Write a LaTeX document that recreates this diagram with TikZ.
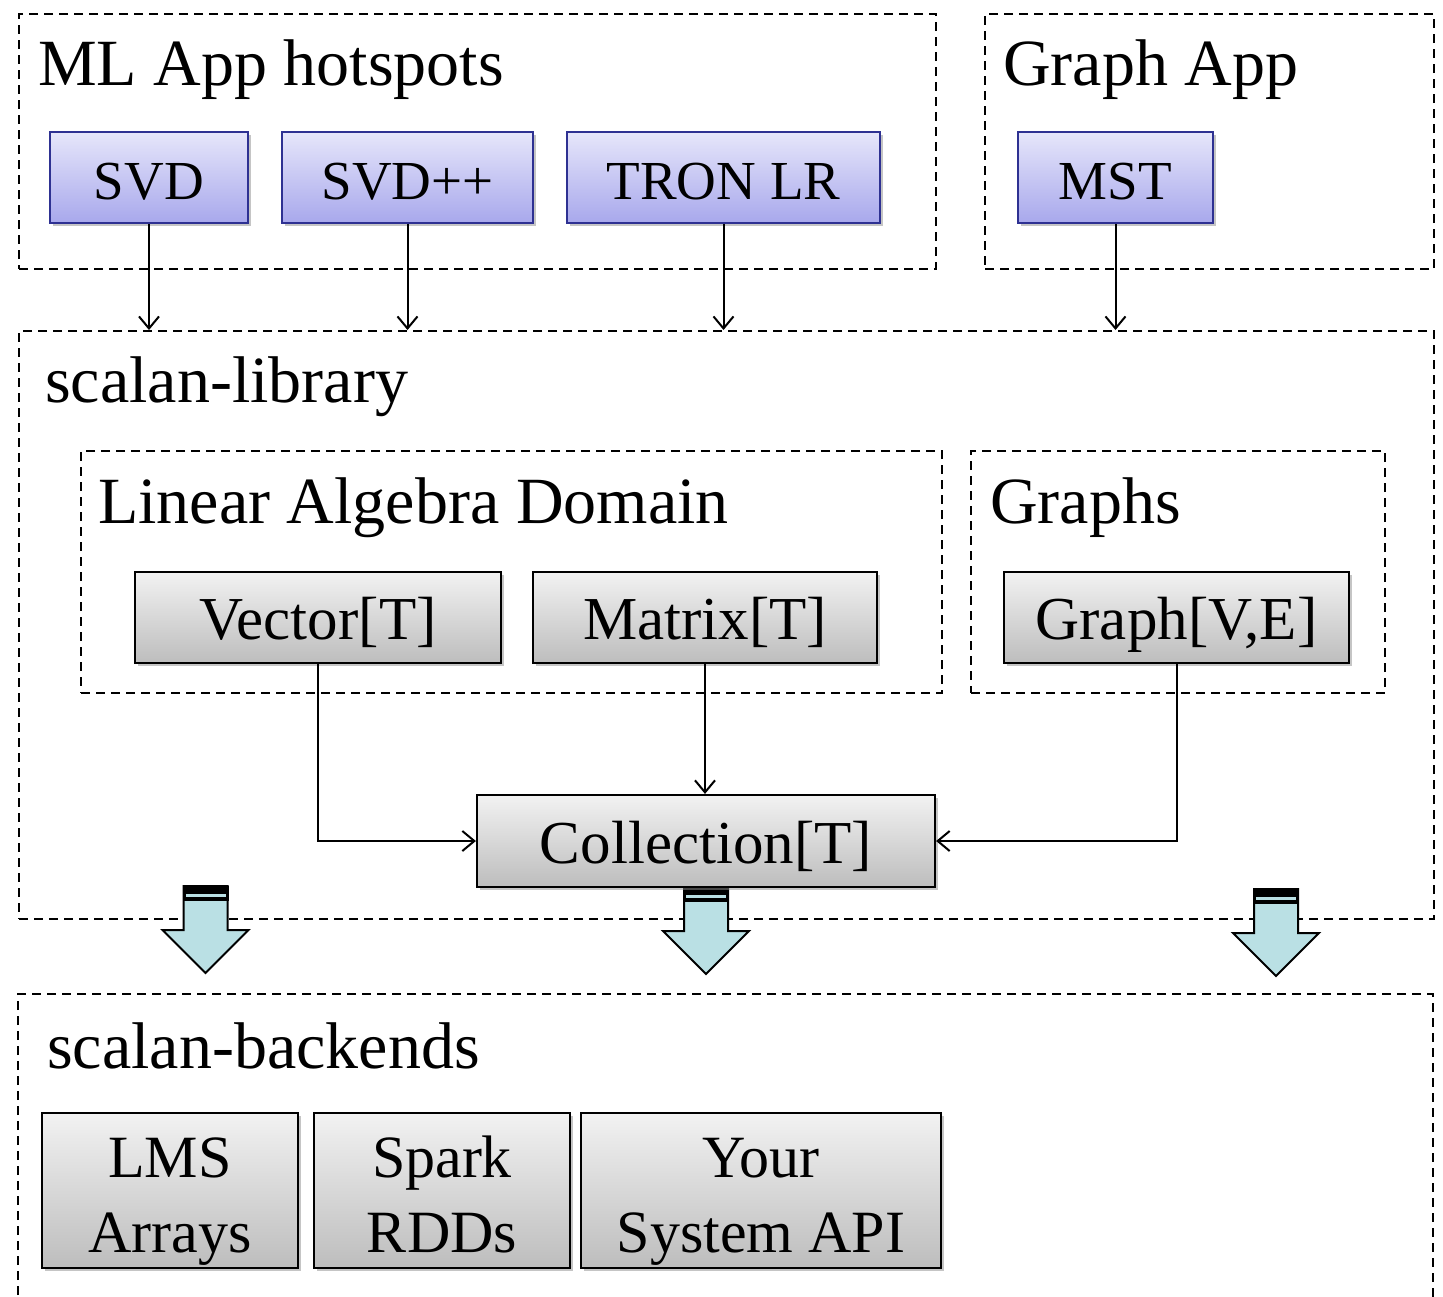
\documentclass[tikz,border=0pt]{standalone}
\usepackage{fontspec}
\setmainfont{Liberation Serif}
\usetikzlibrary{shadows,arrows.meta}

\definecolor{boxblue}{HTML}{2E3192}
\definecolor{bluetop}{HTML}{E6E6FA}
\definecolor{bluebot}{HTML}{A8A8EC}
\definecolor{graytop}{HTML}{F2F2F2}
\definecolor{graybot}{HTML}{BDBDBD}
\definecolor{arrowfill}{HTML}{BAE0E4}

\tikzset{
  group/.style={draw, line width=2.2pt, dash pattern=on 9pt off 6pt, inner sep=0pt},
  grouptitle/.style={anchor=base west, inner sep=0pt, font=\fontsize{66}{72}\selectfont},
  appbox/.style={draw=boxblue, line width=2.4pt, top color=bluetop, bottom color=bluebot,
    inner sep=0pt, font=\fontsize{55}{60}\selectfont, text height=44pt, text depth=0pt,
    drop shadow={shadow xshift=3pt, shadow yshift=-3pt, fill=black!45, opacity=.5}},
  typebox/.style={draw=black, line width=2.2pt, top color=graytop, bottom color=graybot,
    inner sep=0pt, font=\fontsize{61}{66}\selectfont, text height=44pt, text depth=0pt,
    drop shadow={shadow xshift=3pt, shadow yshift=-3pt, fill=black!45, opacity=.5}},
  backbox/.style={typebox, align=center, font=\fontsize{60}{75}\selectfont,
    text height=135pt, text depth=12pt},
  conn/.style={draw, line width=2pt, -{Straight Barb[length=12pt,width=20pt,line width=2pt]}},
  downarrow/.pic={
    \filldraw[fill=arrowfill, draw=black, line width=2pt, line join=miter]
      (-22,0) -- (22,0) -- (22,44) -- (43,44) -- (0,87) -- (-43,44) -- (-22,44) -- cycle;
    \fill[black] (-23,0) rectangle (23,15);
    \fill[arrowfill] (-20,7.5) rectangle (20,10.5);
  }
}

\begin{document}
\begin{tikzpicture}[x=1pt,y=-1pt]
  \useasboundingbox (0,0) rectangle (1443,1296);

  % ---- application layer ----
  \node[group, anchor=north west, minimum width=917, minimum height=255] (mlapp) at (18,13) {};
  \node[grouptitle] (mltitle) at (38,85) {ML App hotspots};
  \node[group, anchor=north west, minimum width=449, minimum height=255] (graphapp) at (984,13) {};
  \node[grouptitle] (gatitle) at (1003,85) {Graph App};

  \node[appbox, minimum width=198, minimum height=91] (svd)  at (149,177.5) {SVD};
  \node[appbox, minimum width=251, minimum height=91] (svdpp) at (407.5,177.5) {SVD++};
  \node[appbox, minimum width=313, minimum height=91] (tron) at (723.5,177.5) {TRON LR};
  \node[appbox, minimum width=195, minimum height=91] (mst)  at (1115.5,177.5) {MST};

  % ---- library layer ----
  \node[group, anchor=north west, minimum width=1415, minimum height=588] (lib) at (18,330) {};
  \node[grouptitle] (libtitle) at (45,402) {scalan-library};

  \node[group, anchor=north west, minimum width=861, minimum height=242] (linalg) at (80,450) {};
  \node[grouptitle] (latitle) at (98,523) {Linear Algebra Domain};
  \node[group, anchor=north west, minimum width=414, minimum height=242] (graphs) at (970,450) {};
  \node[grouptitle] (grtitle) at (990,523) {Graphs};

  \node[typebox, minimum width=366, minimum height=91] (vec)   at (318,617.5) {Vector[T]};
  \node[typebox, minimum width=344, minimum height=91] (mat)   at (705,617.5) {Matrix[T]};
  \node[typebox, minimum width=345, minimum height=91] (graph) at (1176.5,617.5) {Graph[V,E]};

  % block arrows from the library down to the backends
  \pic at (205.5,886) {downarrow};
  \pic at (706,887) {downarrow};
  \pic at (1276,889) {downarrow};

  \node[typebox, minimum width=458, minimum height=92] (coll) at (706,841) {Collection[T]};

  % ---- backend layer (box runs past the lower edge) ----
  \coordinate (bkbl) at (18,1310);
  \coordinate (bkbr) at (1433,1310);
  \draw[line width=2.2pt, dash pattern=on 9pt off 6pt] (bkbl) -- (18,994) -- (1433,994) -- (bkbr);
  \node[grouptitle] (bktitle) at (47,1068) {scalan-backends};

  \node[backbox, minimum width=256, minimum height=155] (lms)   at (170,1190.5) {LMS\\Arrays};
  \node[backbox, minimum width=256, minimum height=155] (spark) at (442,1190.5) {Spark\\RDDs};
  \node[backbox, minimum width=360, minimum height=155] (yours) at (761,1190.5) {Your\\System API};

  % ---- connectors ----
  \draw[conn] (svd.south) -- (svd.south |- lib.north);
  \draw[conn] (svdpp.south) -- (svdpp.south |- lib.north);
  \draw[conn] (tron.south) -- (tron.south |- lib.north);
  \draw[conn] (mst.south) -- (mst.south |- lib.north);

  \draw[conn] (vec.south) |- (coll.west);
  \draw[conn] (mat.south) -- (mat.south |- coll.north);
  \draw[conn] (graph.south) |- (coll.east);
\end{tikzpicture}
\end{document}
